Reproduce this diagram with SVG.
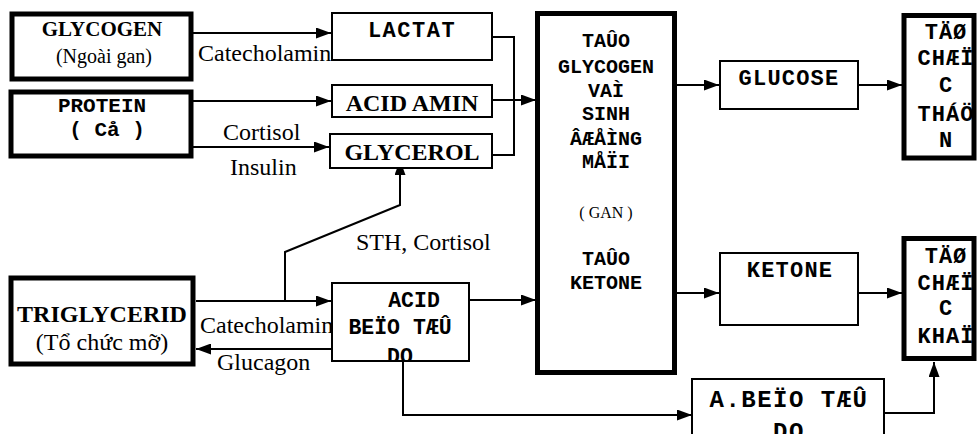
<svg xmlns="http://www.w3.org/2000/svg" width="977" height="434" viewBox="0 0 977 434">
<style>
.thick{fill:#fff;stroke:#000;stroke-width:5}
.thin{fill:#fff;stroke:#000;stroke-width:2}
.ser{font-family:"Liberation Serif","Times New Roman",serif;fill:#000}
.serb{font-family:"Liberation Serif","Times New Roman",serif;font-weight:bold;fill:#000}
.mono{font-family:"Liberation Mono","Courier New",monospace;font-weight:bold;fill:#000}
.c{text-anchor:middle}
.ln{fill:none;stroke:#000;stroke-width:2}
</style>
<defs>
<marker id="ah" markerUnits="userSpaceOnUse" markerWidth="15" markerHeight="11" refX="15" refY="5.5" orient="auto">
<path d="M0,0 L15,5.5 L0,11 z" fill="#000"/>
</marker>
<clipPath id="clipAcid"><rect x="333" y="284" width="135" height="76"/></clipPath>
</defs>

<g id="connectors">
<path class="ln" d="M193,33 H331" marker-end="url(#ah)"/>
<path class="ln" d="M193,101 H331" marker-end="url(#ah)"/>
<path class="ln" d="M193,147 H329" marker-end="url(#ah)"/>
<path class="ln" d="M492,37 H514 V155 H492"/>
<path class="ln" d="M492,100 H536" marker-end="url(#ah)"/>
<path class="ln" d="M677,85 H719" marker-end="url(#ah)"/>
<path class="ln" d="M858,85 H902" marker-end="url(#ah)"/>
<path class="ln" d="M677,293 H719" marker-end="url(#ah)"/>
<path class="ln" d="M858,293 H902" marker-end="url(#ah)"/>
<path class="ln" d="M196,301 H331" marker-end="url(#ah)"/>
<path class="ln" d="M331,349 H196" marker-end="url(#ah)"/>
<path class="ln" d="M285,301 V252 L400,205 V160" marker-end="url(#ah)"/>
<path class="ln" d="M469,300 H536" marker-end="url(#ah)"/>
<path class="ln" d="M403,362 V415 H692" marker-end="url(#ah)"/>
<path class="ln" d="M884,413 H934 V362" marker-end="url(#ah)"/>
<text class="ser" x="198" y="61" font-size="24">Catecholamin</text>
<text class="ser" x="223" y="140" font-size="24">Cortisol</text>
<text class="ser" x="230" y="175" font-size="24">Insulin</text>
<text class="ser" x="356" y="250" font-size="24">STH, Cortisol</text>
<text class="ser" x="200" y="333" font-size="24">Catecholamin</text>
<text class="ser" x="217" y="370" font-size="24">Glucagon</text>
</g>

<g id="glycogen">
<rect class="thick" x="12" y="14" width="179" height="65"/>
<text class="serb c" x="102" y="36" font-size="21">GLYCOGEN</text>
<text class="ser c" x="104" y="63" font-size="20">(Ngoài gan)</text>
</g>

<g id="protein">
<rect class="thick" x="11" y="92" width="180" height="64"/>
<text class="mono c" x="102" y="112" font-size="21">PROTEIN</text>
<text class="mono c" x="107" y="136" font-size="21">( Cå )</text>
</g>

<g id="triglycerid">
<rect class="thick" x="11" y="278" width="182" height="86"/>
<text class="serb c" x="102" y="322" font-size="24">TRIGLYCERID</text>
<text class="ser c" x="102" y="350" font-size="24">(Tổ chức mỡ)</text>
</g>

<g id="lactat">
<rect class="thin" x="332" y="13" width="160" height="47"/>
<text class="mono c" x="412" y="37" font-size="22" letter-spacing="1.5">LACTAT</text>
</g>

<g id="acid-amin">
<rect class="thin" x="332" y="85" width="160" height="32"/>
<text class="serb c" x="412" y="111" font-size="24">ACID AMIN</text>
</g>

<g id="glycerol">
<rect class="thin" x="330" y="134" width="162" height="34"/>
<text class="serb c" x="412" y="160" font-size="24">GLYCEROL</text>
</g>

<g id="acid-beo">
<rect class="thin" x="332" y="283" width="137" height="78"/>
<g clip-path="url(#clipAcid)">
<text class="mono c" x="414" y="307" font-size="21.5">ACID</text>
<text class="mono c" x="400" y="334" font-size="21.5">BEÏO TÆÛ</text>
<text class="mono c" x="400" y="363" font-size="21.5">DO</text>
</g>
</g>

<g id="gan">
<rect class="thick" x="537.5" y="13.5" width="137" height="359"/>
<text class="mono c" x="606" y="47" font-size="20">TAÛO</text>
<text class="mono c" x="606" y="73" font-size="20">GLYCOGEN</text>
<text class="mono c" x="606" y="97" font-size="20">VAÌ</text>
<text class="mono c" x="606" y="120" font-size="20">SINH</text>
<text class="mono c" x="606" y="145" font-size="20">ÂÆÅÌNG</text>
<text class="mono c" x="606" y="168" font-size="20">MÅÏI</text>
<text class="ser c" x="606" y="218" font-size="16">( GAN )</text>
<text class="mono c" x="606" y="265" font-size="20">TAÛO</text>
<text class="mono c" x="606" y="289" font-size="20">KETONE</text>
</g>

<g id="glucose">
<rect class="thin" x="720" y="61" width="138" height="48"/>
<text class="mono c" x="789" y="85" font-size="22" letter-spacing="1.2">GLUCOSE</text>
</g>

<g id="ketone">
<rect class="thin" x="720" y="253" width="138" height="72"/>
<text class="mono c" x="790" y="277" font-size="22" letter-spacing="1.2">KETONE</text>
</g>

<g id="to-chuc-than">
<rect class="thick" x="904" y="15.5" width="70" height="142.5"/>
<text class="mono c" x="946" y="39" font-size="22" letter-spacing="1">TÄØ</text>
<text class="mono c" x="946" y="65" font-size="22" letter-spacing="1">CHÆÏ</text>
<text class="mono c" x="946" y="92" font-size="22" letter-spacing="1">C</text>
<text class="mono c" x="946" y="121" font-size="22" letter-spacing="1">THÁÖ</text>
<text class="mono c" x="946" y="147" font-size="22" letter-spacing="1">N</text>
</g>

<g id="to-chuc-khac">
<rect class="thick" x="904" y="238.5" width="70" height="120"/>
<text class="mono c" x="946" y="263" font-size="22" letter-spacing="1">TÄØ</text>
<text class="mono c" x="946" y="290" font-size="22" letter-spacing="1">CHÆÏ</text>
<text class="mono c" x="946" y="315" font-size="22" letter-spacing="1">C</text>
<text class="mono c" x="946" y="343" font-size="22" letter-spacing="1">KHAÏ</text>
</g>

<g id="a-beo-tu-do">
<rect class="thin" x="692" y="379" width="192" height="70"/>
<text class="mono c" x="789" y="407" font-size="24" letter-spacing="1.5">A.BEÏO TÆÛ</text>
<text class="mono c" x="789" y="439" font-size="24" letter-spacing="1.5">DO</text>
</g>
</svg>
